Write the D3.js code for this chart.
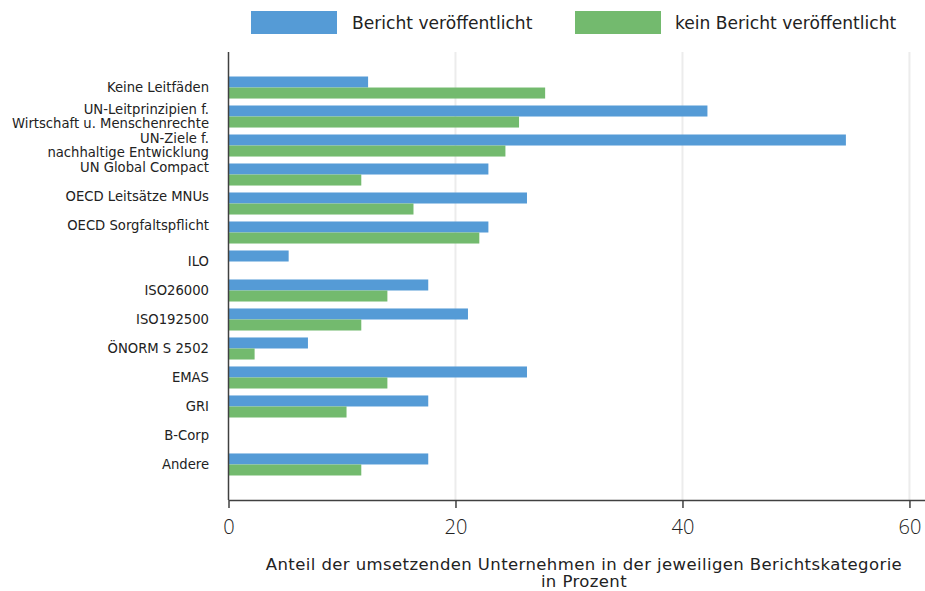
<!DOCTYPE html>
<html>
<head>
<meta charset="utf-8">
<script src="https://cdn.jsdelivr.net/npm/d3@7"></script>
<style>
  body { margin: 0; background: #fff; }
  svg { display: block; font-family: "DejaVu Sans", "Open Sans", sans-serif; }
</style>
</head>
<body>
<svg id="chart" width="925" height="591"></svg>
<script>
const categories = [
  "Keine Leitfäden",
  "UN-Leitprinzipien f. Wirtschaft u. Menschenrechte",
  "UN-Ziele f. nachhaltige Entwicklung",
  "UN Global Compact",
  "OECD Leitsätze MNUs",
  "OECD Sorgfaltspflicht",
  "ILO",
  "ISO26000",
  "ISO192500",
  "ÖNORM S 2502",
  "EMAS",
  "GRI",
  "B-Corp",
  "Andere"
];
const categoryLabels = [
  ["Keine Leitfäden"],
  ["UN-Leitprinzipien f.", "Wirtschaft u. Menschenrechte"],
  ["UN-Ziele f.", "nachhaltige Entwicklung"],
  ["UN Global Compact", ""],
  ["OECD Leitsätze MNUs", ""],
  ["OECD Sorgfaltspflicht", ""],
  ["ILO"],
  ["ISO26000"],
  ["ISO192500"],
  ["ÖNORM S 2502"],
  ["EMAS"],
  ["GRI"],
  ["B-Corp"],
  ["Andere"]
];
const seriesNames = ["Bericht veröffentlicht", "kein Bericht veröffentlicht"];
const published    = [12.3, 42.2, 54.4, 22.9, 26.3, 22.9, 5.3, 17.6, 21.1, 7.0, 26.3, 17.6, 0, 17.6];
const notPublished = [27.9, 25.6, 24.4, 11.7, 16.3, 22.1, 0, 14.0, 11.7, 2.3, 14.0, 10.4, 0, 11.7];
const tickValues = [0, 20, 40, 60];
const axisTitle = ["Anteil der umsetzenden Unternehmen in der jeweiligen Berichtskategorie", "in Prozent"];
const colors = ["#559bd6", "#73ba6e"];

(function () {
const svg = d3.select("#chart");
const pLeft = 228.5, pRight = 925, pTop = 52, pBottom = 500;

const x = d3.scaleLinear().domain([0, 61.37]).range([pLeft, pRight]);
const y = d3.scaleBand().domain(categories).range([pTop, pBottom])
  .paddingInner(0.24).paddingOuter(0.845);
const ySub = d3.scaleBand().domain(seriesNames).range([0, y.bandwidth()]);

// gridlines
svg.append("g").selectAll("line").data(tickValues.filter(d => d > 0)).join("line")
  .attr("x1", d => x(d)).attr("x2", d => x(d))
  .attr("y1", pTop).attr("y2", pBottom)
  .attr("stroke", "#ececec").attr("stroke-width", 2);

// bars
const rows = categories.map((c, i) => ({ c, vals: [published[i], notPublished[i]] }));
const g = svg.append("g");
rows.forEach(r => {
  r.vals.forEach((v, j) => {
    if (v <= 0) return;
    g.append("rect")
      .attr("x", x(0))
      .attr("y", y(r.c) + ySub(seriesNames[j]))
      .attr("width", x(v) - x(0))
      .attr("height", ySub.bandwidth())
      .attr("fill", colors[j]);
  });
});

// category labels
const lineH = 14;
const lab = svg.append("g").attr("font-size", 13.2).attr("fill", "#222").attr("text-anchor", "end");
categories.forEach((c, i) => {
  const lines = categoryLabels[i];
  const cy = y(c) + y.bandwidth() / 2;
  const t = lab.append("text").attr("x", 209);
  lines.forEach((ln, k) => {
    t.append("tspan").attr("x", 209)
      .attr("y", cy + (k - (lines.length - 1) / 2) * lineH)
      .attr("dy", "0.35em")
      .text(ln);
  });
});

// y axis line
svg.append("line").attr("x1", pLeft).attr("x2", pLeft).attr("y1", pTop).attr("y2", pBottom)
  .attr("stroke", "#404040").attr("stroke-width", 1.5);

// x axis
const xAxis = svg.append("g").attr("transform", `translate(0,${pBottom})`)
  .call(d3.axisBottom(x).tickValues(tickValues).tickSize(8).tickPadding(12).tickSizeOuter(0));
xAxis.select(".domain").attr("stroke", "#404040").attr("stroke-width", 1.5);
xAxis.selectAll(".tick text").attr("font-size", 20).attr("fill", "#222")
  .attr("font-family", "'Open Sans', sans-serif").attr("font-weight", 300);
xAxis.selectAll(".tick line").attr("stroke", "#404040").attr("stroke-width", 1.5);

// axis title
const tt = svg.append("text").attr("text-anchor", "middle").attr("font-size", 16.5)
  .attr("letter-spacing", 0.4).attr("fill", "#222");
axisTitle.forEach((ln, k) => {
  tt.append("tspan").attr("x", 584).attr("y", 570 + k * 17).text(ln);
});

// legend
const legX = [251, 575], legTX = [352, 675];
seriesNames.forEach((s, j) => {
  svg.append("rect").attr("x", legX[j]).attr("y", 11).attr("width", 86).attr("height", 23).attr("fill", colors[j]);
  svg.append("text").attr("x", legTX[j]).attr("y", 29).attr("font-size", 17.1).attr("fill", "#222").text(s);
});
})();
</script>
</body>
</html>
